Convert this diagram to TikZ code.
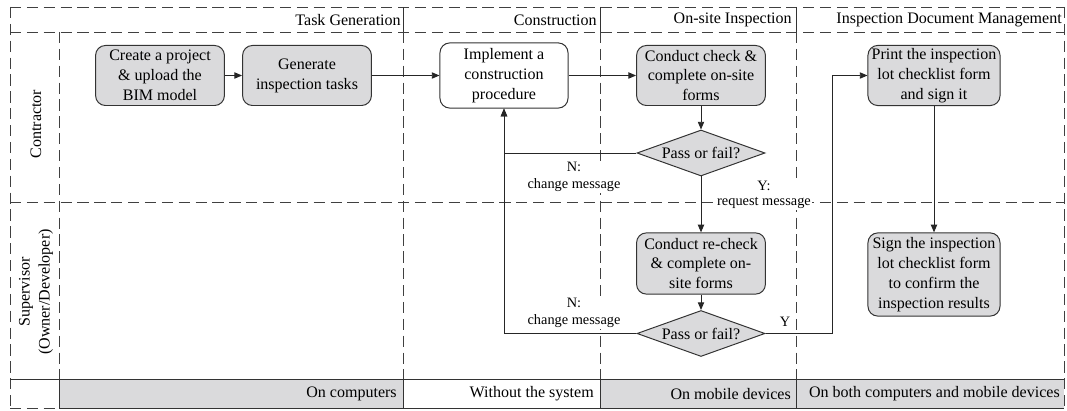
\documentclass[tikz,border=0pt]{standalone}
\usepackage{fontspec}
\setmainfont{Liberation Serif}
\usetikzlibrary{shapes.geometric,arrows.meta}
\definecolor{boxgray}{RGB}{218,218,220}
\newcommand{\nodefont}{\fontsize{11.4}{14.2}\selectfont}
\newcommand{\msgfont}{\fontsize{10.2}{11.6}\selectfont}
\tikzset{
  box/.style={draw=black!80, line width=0.7pt, rounded corners=7pt, align=center,
    minimum width=3.22cm, minimum height=1.5cm, inner sep=2pt, font=\nodefont},
  graybox/.style={box, fill=boxgray},
  decision/.style={draw=black!80, line width=0.7pt, fill=boxgray, shape=diamond, aspect=2.8,
    inner sep=0pt, minimum width=3.2cm, minimum height=1.15cm, font=\nodefont},
  arr/.style={-{Triangle[length=5.5pt,width=4.5pt]}, line width=0.7pt, black!85},
  lane/.style={dash pattern=on 8pt off 4pt, line width=0.7pt, black!75},
  rule/.style={line width=0.7pt, black!80},
  msg/.style={font=\msgfont, align=center, inner sep=1pt, fill=white},
  head/.style={font=\nodefont, anchor=east, inner sep=0pt},
}

\begin{document}
\begin{tikzpicture}[x=0.025cm, y=-0.025cm]
  \useasboundingbox (0,0) rectangle (1067,411);
  % bottom bar
  \fill[boxgray] (59,379) rectangle (403,408);
  \fill[boxgray] (600,379) rectangle (1064,408);
  % swimlanes
  \draw[lane] (10,7) -- (1064,7);
  \draw[lane] (10,32) -- (1064,32);
  \draw[lane] (10,202) -- (1064,202);
  \draw[lane] (10,7) -- (10,408);
  \draw[lane] (1064,7) -- (1064,408);
  \draw[lane] (59,32) -- (59,379);
  \draw[lane] (10,408) -- (59,408);
  \foreach \x in {403,600,796} {
    \draw[lane] (\x,32) -- (\x,379);
    \draw[rule] (\x,7) -- (\x,32);
    \draw[rule] (\x,379) -- (\x,408);
  }
  \draw[rule] (10,379) -- (1064,379);
  \draw[rule] (59,379) -- (59,408) -- (1064,408);

  \node[head] (hTask) at (401,20) {Task Generation};
  \node[head] (hCons) at (597,20) {Construction};
  \node[head] (hInsp) at (792,20) {On-site Inspection};
  \node[head] (hDoc) at (1062,20) {Inspection Document Management};

  \node[head] (bComp) at (397,394) {On computers};
  \node[head] (bNone) at (594,394) {Without the system};
  \node[head] (bMob) at (791,394) {On mobile devices};
  \node[head] (bBoth) at (1060,394) {On both computers and mobile devices};

  \node[rotate=90, font=\nodefont] (contractor) at (36,124) {Contractor};
  \node[rotate=90, font=\nodefont, align=center] (supervisor) at (36,292) {Supervisor\\(Owner/Developer)};

  % steps
  \node[graybox] (create) at (160,75.5) {Create a project\\\& upload the\\BIM model};
  \node[graybox] (gen) at (307,75.5) {Generate\\inspection tasks};
  \node[box, fill=white, minimum width=3.2cm, minimum height=1.63cm] (impl) at (504,75.5) {Implement a\\construction\\procedure};
  \node[graybox] (check) at (701,75.5) {Conduct check \&\\complete on-site\\forms};
  \node[decision] (pf1) at (701,153) {Pass or fail?};
  \node[graybox, minimum height=1.53cm] (recheck) at (701,263.5) {Conduct re-check\\\& complete on-\\site forms};
  \node[decision] (pf2) at (701,333.5) {Pass or fail?};
  \node[graybox, minimum width=3.3cm] (print) at (934,75.5) {Print the inspection\\lot checklist form\\and sign it};
  \node[graybox, minimum width=3.3cm, minimum height=2.08cm] (sign) at (934,274.5) {Sign the inspection\\lot checklist form\\to confirm the\\inspection results};
  \coordinate (yturn) at (832,333.5);

  \draw[arr] (create) -- (gen);
  \draw[arr] (gen) -- (impl);
  \draw[arr] (impl) -- (check);
  \draw[arr] (check) -- (pf1);
  \draw[arr] (pf1.west) -| (impl.south);
  \draw[arr] (pf2.west) -| (impl.south);
  \draw[arr] (pf1) -- (recheck);
  \draw[arr] (recheck) -- (pf2);
  \draw[arr] (pf2.east) -- (yturn) |- (print.west);
  \draw[arr] (print) -- (sign);

  \node[msg] (n1) at (574,177) {N:\\change message};
  \node[msg] (y1) at (764,195) {Y:\\[-1pt]request message};
  \node[msg] (n2) at (574,313) {N:\\change message};
  \node[msg, fill=none] (y2) at (785,322) {Y};
\end{tikzpicture}
\end{document}
